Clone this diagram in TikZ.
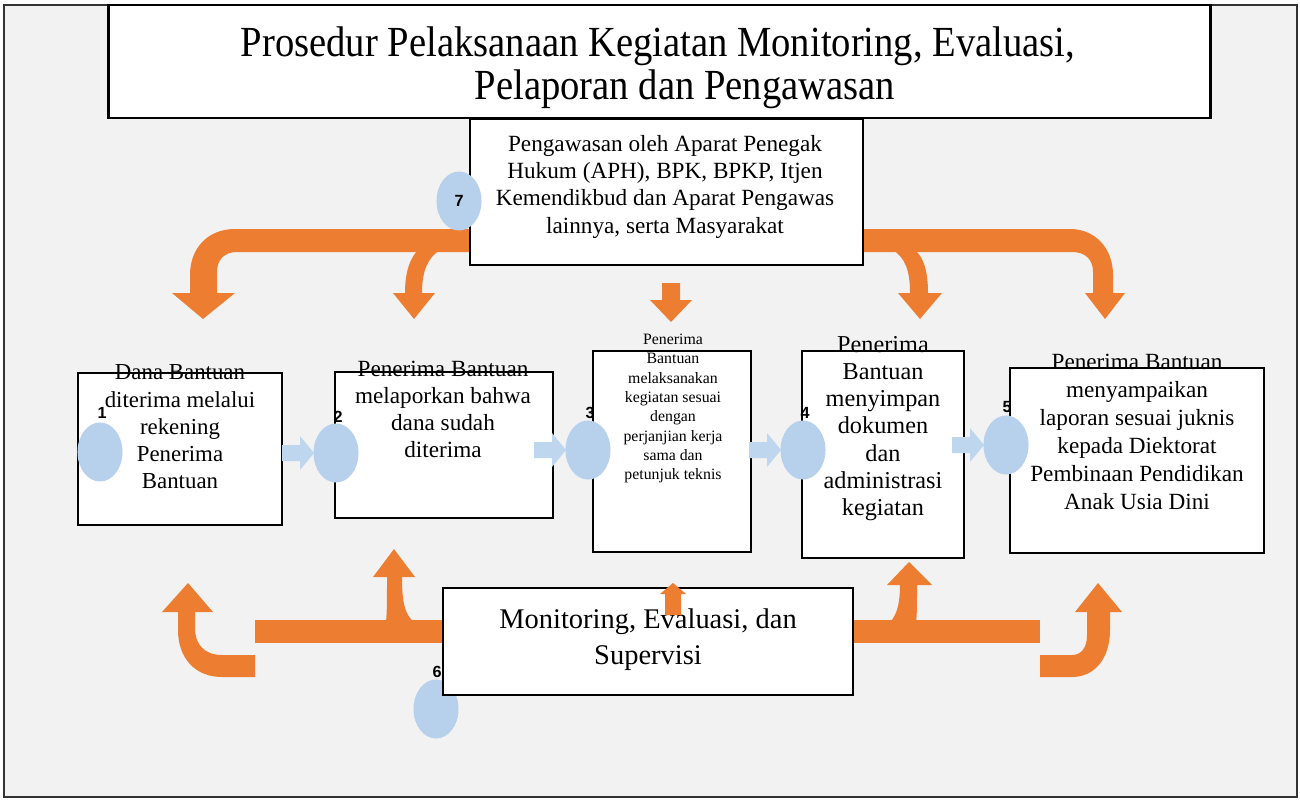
\documentclass[tikz,border=0pt]{standalone}
\usepackage{fontspec}
\setmainfont{Liberation Serif}
\newfontfamily\titlefont[FakeStretch=0.9]{Liberation Serif}
\newfontfamily\numfont{Liberation Sans}
\usetikzlibrary{calc,shapes.geometric}
\definecolor{bggray}{HTML}{F2F2F2}
\definecolor{orng}{HTML}{ED7D31}
\definecolor{ellblue}{RGB}{183,208,235}
\definecolor{arrblue}{RGB}{190,215,238}
\tikzset{
  frame/.style={draw=black!80, line width=0.8pt, fill=bggray},
  box/.style={draw=black, line width=0.6pt, fill=white, inner sep=0pt, outer sep=0pt},
  txt/.style={inner sep=0pt, outer sep=0pt, align=center, anchor=north},
  ell/.style={fill=ellblue, draw=none, inner sep=0pt, outer sep=0pt, shape=ellipse, minimum width=0.45cm, minimum height=0.59cm},
  numlbl/.style={inner sep=0pt, font=\numfont\bfseries\fontsize{4.6}{5}\selectfont},
  orng/.style={fill=orng, draw=none},
  lb/.style={fill=arrblue, draw=none}
}
\begin{document}
\begin{tikzpicture}[x=0.01cm, y=-0.01cm]
\useasboundingbox (0,0) rectangle (1300,800);
% outer frame
\draw[frame] (4,5) rectangle (1297,797);
% title
\node[box, line width=0.7pt, minimum width=11.01cm, minimum height=1.13cm] (title) at (659.5,61.5) {};
\node[txt, anchor=base, font=\titlefont\fontsize{12.2}{13}\selectfont] (t1) at (658,56) {Prosedur Pelaksanaan Kegiatan Monitoring, Evaluasi,};
\node[txt, anchor=base, font=\titlefont\fontsize{12.2}{13}\selectfont] (t2) at (685,99) {Pelaporan dan Pengawasan};

% orange arrows top
\fill[orng] (472,229) -- (235,229) .. controls (208,229) and (190,248) .. (190,275) -- (190,293) -- (172,293) -- (203,319) -- (235,293) -- (217,293) -- (217,272) .. controls (217,260) and (224,252) .. (237,252) -- (472,252) -- cycle;
\fill[orng] (440,250) .. controls (428,258) and (422,270) .. (422,293) -- (435,293) -- (414,319) -- (393,293) -- (405,293) .. controls (405,272) and (410,258) .. (418,250) -- cycle;
\fill[orng] (860,229) -- (1070,229) .. controls (1095,229) and (1113,248) .. (1113,275) -- (1113,293) -- (1125,293) -- (1105,319) -- (1085,293) -- (1093,293) -- (1093,272) .. controls (1093,260) and (1086,252) .. (1072,252) -- (860,252) -- cycle;
\fill[orng] (893,250) .. controls (905,258) and (910,270) .. (910,293) -- (898,293) -- (920,319) -- (942,293) -- (928,293) .. controls (928,272) and (924,258) .. (915,250) -- cycle;
\fill[orng] (662,283) -- (680,283) -- (680,300) -- (692,300) -- (671,322) -- (650,300) -- (662,300) -- cycle;

% box 7
\node[box, minimum width=3.93cm, minimum height=1.46cm] (b7) at (666.5,192) {};
\node[txt, font=\fontsize{6.6}{7.77}\selectfont] (t7) at (665,135) {Pengawasan oleh Aparat Penegak\\Hukum (APH), BPK, BPKP, Itjen\\Kemendikbud dan Aparat Pengawas\\lainnya, serta Masyarakat};
\node[ell] (e7) at (459,201) {};
\node[numlbl] (n7) at (e7) {7};

% bottom orange arrows
\fill[orng] (255,620) rectangle (445,643);
\fill[orng] (851,620) rectangle (1040,643);
\fill[orng] (386,622) .. controls (387,612) and (387,600) .. (387,577) -- (373,577) -- (394,549) -- (415,577) -- (402,577) .. controls (402,600) and (404,614) .. (414,622) -- cycle;
\fill[orng] (890,622) .. controls (898,614) and (900,600) .. (900,585) -- (887,585) -- (909,562) -- (932,585) -- (917,585) .. controls (917,605) and (917,615) .. (916,622) -- cycle;
\fill[orng] (255,655) -- (222,655) .. controls (205,655) and (195,645) .. (195,628) -- (195,612) -- (213,612) -- (188,583) -- (162,612) -- (178,612) -- (178,630) .. controls (178,658) and (195,677) .. (222,677) -- (255,677) -- cycle;
\fill[orng] (1040,655) -- (1072,655) .. controls (1081,655) and (1087,648) .. (1087,635) -- (1087,612) -- (1075,612) -- (1098,583) -- (1122,612) -- (1110,612) -- (1110,630) .. controls (1110,658) and (1095,677) .. (1072,677) -- (1040,677) -- cycle;

% ellipse 6 and box 6
\node[ell] (e6) at (436,709) {};
\node[numlbl] (n6) at (437,672) {6};
\node[box, line width=0.7pt, minimum width=4.10cm, minimum height=1.07cm] (b6) at (648,641.5) {};
\node[txt, font=\fontsize{8.1}{10.2}\selectfont] (t6) at (648,609) {Monitoring, Evaluasi, dan\\Supervisi};
\fill[orng] (665,615) -- (665,594) -- (660,594) -- (673,583) -- (686,594) -- (681,594) -- (681,615) -- cycle;

% step boxes
\node[box, minimum width=2.04cm, minimum height=1.52cm] (b1) at (180,449) {};
\node[box, minimum width=2.18cm, minimum height=1.46cm] (b2) at (444,445) {};
\node[box, minimum width=1.58cm, minimum height=2.01cm] (b3) at (672,451.5) {};
\node[box, minimum width=1.62cm, minimum height=2.07cm] (b4) at (883,454.5) {};
\node[box, minimum width=2.54cm, minimum height=1.85cm] (b5) at (1137,460.5) {};

\node[txt, font=\fontsize{6.5}{7.7}\selectfont] (t1b) at (180,365) {Dana Bantuan\\diterima melalui\\rekening\\Penerima\\Bantuan};
\node[txt, font=\fontsize{6.6}{7.7}\selectfont] (t2b) at (443,361) {Penerima Bantuan\\melaporkan bahwa\\dana sudah\\diterima};
\node[txt, font=\fontsize{4.5}{5.5}\selectfont] (t3b) at (673,334) {Penerima\\Bantuan\\melaksanakan\\kegiatan sesuai\\dengan\\perjanjian kerja\\sama dan\\petunjuk teknis};
\node[txt, font=\fontsize{6.9}{7.75}\selectfont] (t4b) at (883,336) {Penerima\\Bantuan\\menyimpan\\dokumen\\dan\\administrasi\\kegiatan};
\node[txt, font=\fontsize{6.6}{7.97}\selectfont] (t5b) at (1137,354) {Penerima Bantuan\\menyampaikan\\laporan sesuai juknis\\kepada Diektorat\\Pembinaan Pendidikan\\Anak Usia Dini};

% ellipse centres
\coordinate (c2) at (336,453);
\coordinate (c3) at (588,450);
\coordinate (c4) at (803,450);
\coordinate (c5) at (1006,445);

% light blue arrows (tips at the left of each ellipse)
\fill[lb] ($(c2)+(-22,0)$) -- ++(-14,-17) -- ++(0,9) -- ++(-18,0) -- ++(0,16) -- ++(18,0) -- ++(0,9) -- cycle;
\fill[lb] ($(c3)+(-22,0)$) -- ++(-14,-17) -- ++(0,9) -- ++(-18,0) -- ++(0,16) -- ++(18,0) -- ++(0,9) -- cycle;
\fill[lb] ($(c4)+(-22,0)$) -- ++(-14,-17) -- ++(0,9) -- ++(-18,0) -- ++(0,16) -- ++(18,0) -- ++(0,9) -- cycle;
\fill[lb] ($(c5)+(-22,0)$) -- ++(-14,-17) -- ++(0,9) -- ++(-18,0) -- ++(0,16) -- ++(18,0) -- ++(0,9) -- cycle;

% ellipses
\node[ell] (e1) at (100,452) {};
\node[ell] (e2) at (c2) {};
\node[ell] (e3) at (c3) {};
\node[ell] (e4) at (c4) {};
\node[ell] (e5) at (c5) {};

\node[numlbl] (n1) at (102,413) {1};
\node[numlbl] (n2) at (338,417) {2};
\node[numlbl] (n3) at (590,413) {3};
\node[numlbl] (n4) at (805,413) {4};
\node[numlbl] (n5) at (1007,407) {5};
\end{tikzpicture}
\end{document}
